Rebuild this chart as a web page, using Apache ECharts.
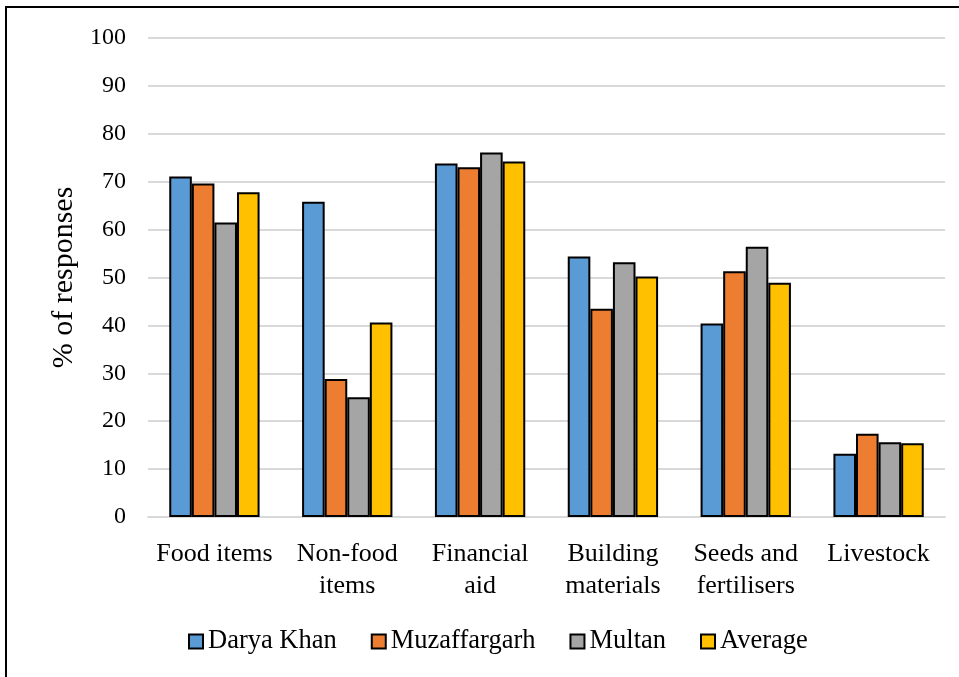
<!DOCTYPE html>
<html>
<head>
<meta charset="utf-8">
<script src="https://cdn.jsdelivr.net/npm/echarts@6/dist/echarts.min.js"></script>
<style>
  html, body { margin: 0; padding: 0; background: #fff; }
  #chart { width: 959px; height: 677px; }
</style>
</head>
<body>
<div id="chart"></div>
<script>
// Types of assistance received, % of responses per district
const categories = ['Food items', 'Non-food\nitems', 'Financial\naid', 'Building\nmaterials', 'Seeds and\nfertilisers', 'Livestock'];
const daryaKhan = [71.1, 65.8, 73.8, 54.4, 40.4, 13.2];
const muzaffargarh = [69.6, 28.8, 73.0, 43.5, 51.3, 17.4];
const multan = [61.5, 25.0, 76.1, 53.2, 56.4, 15.6];
const average = [67.8, 40.6, 74.2, 50.2, 48.9, 15.4];
const seriesNames = ['Darya Khan', 'Muzaffargarh', 'Multan', 'Average'];
const colors = ['#5B9BD5', '#ED7D31', '#A5A5A5', '#FFC000'];

const font = 'Liberation Serif';
const chart = echarts.init(document.getElementById('chart'), null, { renderer: 'canvas' });

const values = [daryaKhan, muzaffargarh, multan, average];
chart.setOption({
  animation: false,
  backgroundColor: '#fff',
  graphic: [{
    type: 'rect',
    shape: { x: 6, y: 7, width: 1000, height: 700 },
    style: { fill: 'none', stroke: '#000', lineWidth: 2 },
    silent: true
  }],
  legend: {
    bottom: 17,
    left: 183,
    icon: 'rect',
    itemWidth: 14,
    itemHeight: 14,
    itemGap: 34,
    itemStyle: { borderColor: '#000', borderWidth: 2 },
    textStyle: { fontFamily: font, fontSize: 26.5, color: '#000' },
    data: seriesNames
  },
  grid: { left: 148, right: 14, top: 38, bottom: 160, containLabel: false },
  xAxis: {
    type: 'category',
    data: categories,
    axisLine: { show: true, lineStyle: { color: '#d9d9d9', width: 2 } },
    axisTick: { show: false },
    axisLabel: { interval: 0, fontFamily: font, fontSize: 26, color: '#000', lineHeight: 32, margin: 21 }
  },
  yAxis: {
    type: 'value',
    min: 0, max: 100, interval: 10,
    name: '% of responses',
    nameLocation: 'middle',
    nameGap: 67,
    nameTextStyle: { fontFamily: font, fontSize: 30, color: '#000' },
    axisLine: { show: false },
    axisTick: { show: false },
    axisLabel: { fontFamily: font, fontSize: 24, color: '#000', margin: 22 },
    splitLine: { lineStyle: { color: '#d9d9d9', width: 2 } }
  },
  series: seriesNames.map((name, i) => ({
    name: name,
    type: 'bar',
    data: values[i],
    barGap: '0%',
    barCategoryGap: '32%',
    itemStyle: { color: colors[i], borderColor: '#000', borderWidth: 2 }
  }))
});
</script>
</body>
</html>
